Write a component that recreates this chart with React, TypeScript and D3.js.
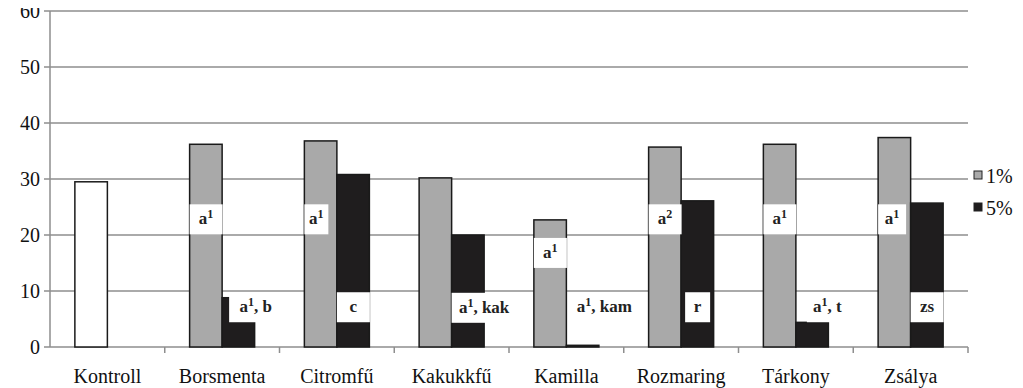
import React from "react";
import * as d3 from "d3";

const categories = ["Kontroll", "Borsmenta", "Citromfű", "Kakukkfű", "Kamilla", "Rozmaring", "Tárkony", "Zsálya"];
const seriesNames = ["1%", "5%"];
const control = [29.5, null, null, null, null, null, null, null];
const values1 = [null, 36.2, 36.8, 30.2, 22.7, 35.7, 36.2, 37.4];
const values5 = [null, 8.8, 30.8, 20.0, 0.3, 26.1, 4.4, 25.7];
const yTicks = [0, 10, 20, 30, 40, 50, 60];

// significance labels: category, series index, letter, superscript, rest, y (value units, box centre)
const labelCats = ["Borsmenta", "Borsmenta", "Citromfű", "Citromfű", "Kakukkfű", "Kamilla", "Kamilla", "Rozmaring", "Rozmaring", "Tárkony", "Tárkony", "Zsálya", "Zsálya"];
const labelSeries = [0, 1, 0, 1, 1, 0, 1, 0, 1, 0, 1, 0, 1];
const labelBase = ["a", "a", "a", "c", "a", "a", "a", "a", "r", "a", "a", "a", "zs"];
const labelSup = ["1", "1", "1", "", "1", "1", "1", "2", "", "1", "1", "1", ""];
const labelRest = ["", ", b", "", "", ", kak", "", ", kam", "", "", "", ", t", "", ""];
const labelY = [22.8, 7.1, 22.8, 7.1, 7.0, 16.8, 7.1, 22.8, 7.1, 22.8, 7.1, 22.8, 7.1];
const labelDx = [0, 7, 0, 0, 0, 0, 3, 0, 4, 0, 11, 0, 0];
const labelW = [33, 53, 24, 33, 65, 33, 70, 33, 25, 33, 41, 28, 33];

export default function App() {
  const W = 1023, H = 388;
  const left = 50, right = 968, top = 11, bottom = 347;
  const x = d3.scaleBand<string>().domain(categories).range([left, right]).padding(0);
  const bw = x.bandwidth();
  const xs = d3.scaleBand<string>().domain(seriesNames).range([0, bw]).paddingInner(0).paddingOuter(0.765);
  const y = d3.scaleLinear().domain([0, 60]).range([bottom, top]);
  const gray = "#a9a9a9";
  const dark = "#1f1d1e";
  const gridColor = "#8e8e8e";

  const bars: any[] = [];
  categories.forEach((c, i) => {
    const b = x(c)!;
    if (control[i] != null) {
      bars.push({ x: b + xs("1%")!, v: control[i], fill: "#ffffff" });
    }
    if (values1[i] != null) bars.push({ x: b + xs("1%")!, v: values1[i], fill: gray });
    if (values5[i] != null) bars.push({ x: b + xs("5%")!, v: values5[i], fill: dark });
  });

  const tf = (fam: string) => ({ fontFamily: `"${fam}"` });
  const F = "Liberation Serif";

  return (
    <svg width={W - 8} height={H - 8} viewBox={`8 8 ${W - 8} ${H - 8}`}>
      <rect x={0} y={0} width={W} height={H} fill="#fff" />
      {yTicks.map((t) => (
        <g key={t}>
          <line x1={left - 6} x2={right} y1={y(t)} y2={y(t)} stroke={gridColor} strokeWidth={1.5} />
          <text x={40} y={y(t) + 7} textAnchor="end" fontSize={20} fill="#111" style={tf(F)}>{t}</text>
        </g>
      ))}
      <line x1={left} x2={left} y1={top} y2={bottom} stroke={gridColor} strokeWidth={1.5} />
      {categories.map((c, i) => (
        <line key={"t" + i} x1={x(c)! + bw} x2={x(c)! + bw} y1={bottom} y2={bottom + 6} stroke={gridColor} strokeWidth={1.5} />
      ))}
      {bars.map((d, i) => (
        <rect key={"b" + i} x={d.x} y={y(d.v)} width={xs.bandwidth()} height={y(0) - y(d.v)} fill={d.fill} stroke="#1a1a1a" strokeWidth={1.5} />
      ))}
      {labelCats.map((c, i) => {
        const bx = x(c)! + xs(seriesNames[labelSeries[i]])! + labelDx[i];
        const cy = y(labelY[i]);
        const w = labelW[i];
        return (
          <g key={"l" + i}>
            <rect x={bx} y={cy - 15} width={w} height={30} fill="#fff" />
            <text x={bx + w / 2} y={cy + 5} textAnchor="middle" fontSize={17} fontWeight="bold" fill="#222" style={tf(F)}>
              {labelBase[i]}
              {labelSup[i] ? <tspan fontSize={12} dy={-6}>{labelSup[i]}</tspan> : null}
              {labelRest[i] ? <tspan dy={labelSup[i] ? 6 : 0}>{labelRest[i]}</tspan> : null}
            </text>
          </g>
        );
      })}
      {categories.map((c) => (
        <text key={"x" + c} x={x(c)! + bw / 2} y={383} textAnchor="middle" fontSize={20} fill="#111" style={tf(F)}>{c}</text>
      ))}
      {seriesNames.map((s, i) => (
        <g key={"lg" + s}>
          <rect x={974} y={171 + i * 32} width={8} height={8} fill={i === 0 ? gray : dark} stroke="#222" strokeWidth={1} />
          <text x={986} y={183 + i * 32} fontSize={20} fill="#111" style={tf(F)}>{s}</text>
        </g>
      ))}
    </svg>
  );
}
